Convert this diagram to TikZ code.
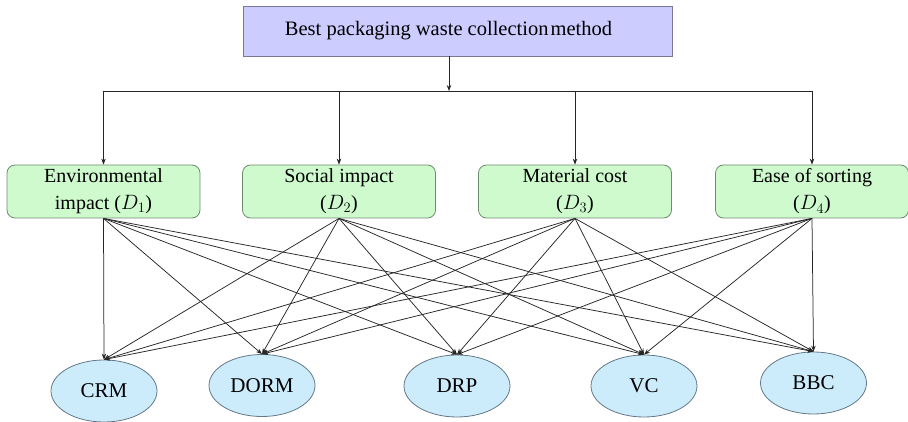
\documentclass[tikz,border=0pt]{standalone}
\usepackage{fontspec}
\setmainfont{Liberation Serif}
\usetikzlibrary{arrows.meta,shapes.geometric}
\definecolor{goalfill}{RGB}{204,204,255}
\definecolor{goalline}{RGB}{120,120,150}
\definecolor{critfill}{RGB}{206,250,206}
\definecolor{critline}{RGB}{110,140,110}
\definecolor{altfill}{RGB}{204,236,252}
\definecolor{altline}{RGB}{100,120,135}
\begin{document}
\begin{tikzpicture}[x=1pt,y=-1pt,
  goal/.style={draw=goalline, fill=goalfill, line width=0.8pt, minimum width=429pt, minimum height=50pt, inner sep=0pt, font=\fontsize{20.5}{24}\selectfont},
  crit/.style={draw=critline, fill=critfill, line width=0.8pt, rounded corners=8pt, minimum width=193pt, minimum height=53pt, inner sep=0pt, align=center, font=\fontsize{20}{27}\selectfont},
  alt/.style={ellipse, draw=altline, fill=altfill, line width=0.8pt, minimum width=106pt, minimum height=62pt, inner sep=0pt, font=\fontsize{21}{24}\selectfont},
  arr/.style={-{Stealth[length=6pt,width=4.5pt]}, draw=black!85, line width=0.75pt},
  link/.style={draw=black!85, line width=0.75pt}]
\useasboundingbox (0,0) rectangle (908,422);
\node[goal] (goal) at (457.5,31) {\hspace*{-18pt}Best packaging waste collection\hspace{2pt}method};
\node[crit] (d1) at (103.5,191.5) {Environmental\\impact ($D_1$)};
\node[crit] (d2) at (339,191.5) {Social impact\\($D_2$)};
\node[crit] (d3) at (575,191.5) {Material cost\\($D_3$)};
\node[crit] (d4) at (812,191.5) {Ease of sorting\\($D_4$)};
\node[alt] (crm) at (104,391) {CRM};
\node[alt] (dorm) at (262,385.5) {DORM};
\node[alt] (drp) at (457,386) {DRP};
\node[alt] (vc) at (644,386) {VC};
\node[alt] (bbc) at (813.5,383) {BBC};
\coordinate (split) at (449,91);
\draw[arr] (goal.south -| split) -- (split);
\draw[link] (d1.north |- split) -- (d4.north |- split);
\foreach \d in {d1,d2,d3,d4}{
  \draw[arr] (\d.north |- split) -- (\d.north);
  \foreach \a in {crm,dorm,drp,vc,bbc}{
    \draw[arr] (\d.south) -- (\a.north);
  }
}
\end{tikzpicture}
\end{document}
